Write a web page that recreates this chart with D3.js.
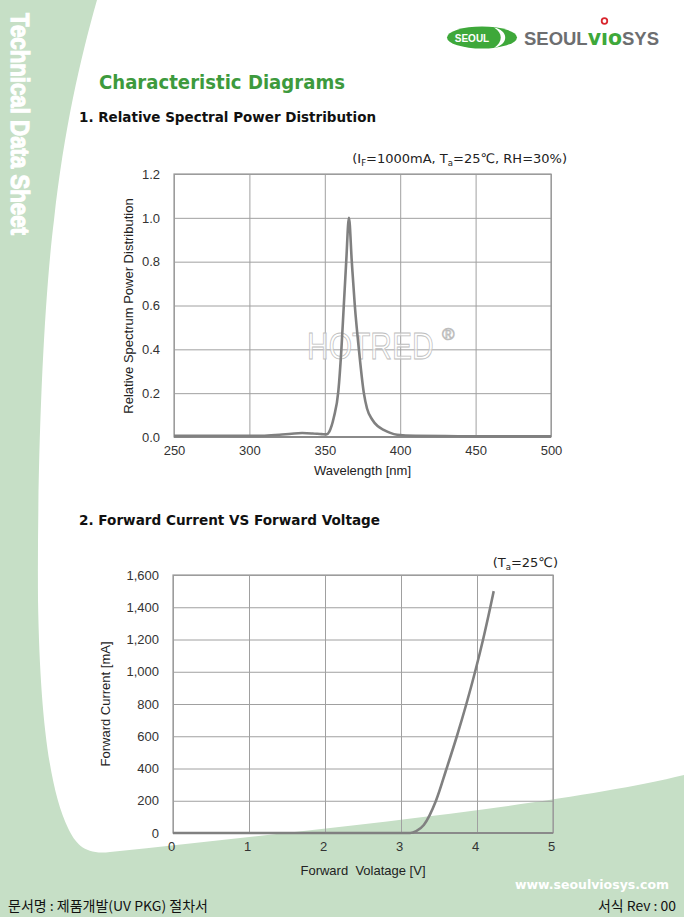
<!DOCTYPE html>
<html>
<head>
<meta charset="utf-8">
<script src="https://cdn.jsdelivr.net/npm/d3@7"></script>
<style>
  html, body { margin: 0; padding: 0; background: #fff; }
  svg { display: block; }
  .tick text { font-family: "Liberation Sans", Arial, sans-serif; font-size: 13px; fill: #333; }
  .grid line { stroke: #a0a0a0; stroke-width: 1; }
</style>
</head>
<body>
<svg id="page" width="684" height="917"></svg>
<script>
//============================================================
// Data
//------------------------------------------------------------

var spectrumWavelength = [250, 260, 270, 280, 290, 300, 310, 320, 328, 335, 342, 348, 351, 353, 356, 359, 361, 362.6, 364.2, 366,
                          367.9, 369.9, 372.6, 375.9, 378, 381.4, 385, 389, 393, 398, 410, 430, 450, 475, 500];
var spectrumValue      = [0.005, 0.005, 0.006, 0.006, 0.005, 0.005, 0.006, 0.010, 0.015, 0.018, 0.016, 0.013, 0.012, 0.025, 0.09, 0.21, 0.40, 0.60, 0.80, 1.0,
                          0.80, 0.60, 0.40, 0.20, 0.13, 0.08, 0.05, 0.033, 0.02, 0.01, 0.005, 0.004, 0.003, 0.003, 0.003];
var wavelengthTicks = [250, 300, 350, 400, 450, 500];
var spectrumTicks   = [0, 0.2, 0.4, 0.6, 0.8, 1.0, 1.2];

var forwardVoltage = [0, 1, 2, 3.0, 3.12, 3.2, 3.3, 3.46, 3.6, 3.735, 3.86, 3.975, 4.08, 4.175, 4.22];
var forwardCurrent = [0, 0, 0, 0, 0, 12, 50, 200, 400, 600, 800, 1000, 1200, 1400, 1500];
var voltageTicks = [0, 1, 2, 3, 4, 5];
var currentTicks = [0, 200, 400, 600, 800, 1000, 1200, 1400, 1600];

//============================================================
// Page background
//------------------------------------------------------------

var svg = d3.select('#page');
var green = '#c6dfc6';

svg.append('rect').attr('width', 684).attr('height', 917).attr('fill', green);
svg.append('path')
    .attr('fill', '#fff')
    .attr('d', 'M97,0 L684,0 L684,775 C560,805 330,828 110,852 C86,855 76,845 68,828 ' +
               'C50,790 40,720 38,600 C37,450 44,300 54,220 C64,130 80,60 97,0 Z');

svg.append('text')
    .attr('transform', 'translate(11,13) rotate(90)')
    .attr('textLength', 222)
    .attr('lengthAdjust', 'spacingAndGlyphs')
    .style('font-family', '"Liberation Sans", Arial, sans-serif')
    .style('font-weight', 'bold')
    .style('font-size', '26px')
    .attr('fill', '#fff')
    .attr('stroke', '#fff').attr('stroke-width', 1.2)
    .text('Technical Data Sheet');

//------------------------------------------------------------
// Logo
var logo = svg.append('g');
logo.append('ellipse').attr('cx', 482).attr('cy', 37.5).attr('rx', 35).attr('ry', 11).attr('fill', '#3ea83a');
logo.append('path')
    .attr('fill', '#fff')
    .attr('d', 'M494,27.5 C508,30 510,44 494,48 C503,42 503,33 494,27.5 Z');
logo.append('text')
    .attr('x', 472).attr('y', 41.5).attr('text-anchor', 'middle')
    .style('font-family', '"Liberation Sans", Arial, sans-serif').style('font-size', '10px').style('font-weight', 'bold')
    .attr('fill', '#fff').text('SEOUL');
var logoText = logo.append('text')
    .attr('x', 524).attr('y', 45)
    .attr('textLength', 135).attr('lengthAdjust', 'spacingAndGlyphs')
    .style('font-family', '"Liberation Sans", Arial, sans-serif').style('font-size', '19px').style('font-weight', 'bold');
logoText.append('tspan').attr('fill', '#6d6e70').text('SEOUL');
logoText.append('tspan').attr('fill', '#3ea83a').style('font-family', '"DejaVu Sans", sans-serif').style('font-size', '21px').text('v\u0131o');
logoText.append('tspan').attr('fill', '#6d6e70').text('SYS');

// red ring sits over the dotless i (character index 6)
var iBox = logoText.node().getExtentOfChar(6);
logo.append('circle')
    .attr('cx', iBox.x + iBox.width / 2).attr('cy', 21)
    .attr('r', 2.8).attr('fill', '#fff').attr('stroke', '#d9262e').attr('stroke-width', 1.8);

//------------------------------------------------------------
// Titles
svg.append('text')
    .attr('x', 99).attr('y', 89)
    .attr('textLength', 246).attr('lengthAdjust', 'spacingAndGlyphs')
    .style('font-family', '"DejaVu Sans", Verdana, sans-serif').style('font-size', '20px').style('font-weight', 'bold')
    .attr('fill', '#3d9a3d')
    .text('Characteristic Diagrams');

function heading(y, label, len) {
  svg.append('text')
      .attr('x', 79).attr('y', y)
      .attr('textLength', len).attr('lengthAdjust', 'spacingAndGlyphs')
      .style('font-family', '"DejaVu Sans", Verdana, sans-serif').style('font-size', '14.5px').style('font-weight', 'bold')
      .attr('fill', '#111')
      .text(label);
}
heading(122, '1. Relative Spectral Power Distribution', 297);
heading(525, '2. Forward Current VS Forward Voltage', 301);

//============================================================
// Chart builder
//------------------------------------------------------------

function lineChart(opt) {
  var x = d3.scaleLinear().domain(opt.xDomain).range([opt.left, opt.right]);
  var y = d3.scaleLinear().domain(opt.yDomain).range([opt.bottom, opt.top]);
  var g = svg.append('g');

  var xAxis = g.append('g')
      .attr('class', 'grid')
      .attr('transform', 'translate(0,' + opt.bottom + ')')
      .call(d3.axisBottom(x).tickValues(opt.xTicks).tickSize(-(opt.bottom - opt.top)).tickSizeOuter(0).tickPadding(9).tickFormat(opt.xFormat));
  var yAxis = g.append('g')
      .attr('class', 'grid')
      .attr('transform', 'translate(' + opt.left + ',0)')
      .call(d3.axisLeft(y).tickValues(opt.yTicks).tickSize(-(opt.right - opt.left)).tickSizeOuter(0).tickPadding(14).tickFormat(opt.yFormat));
  xAxis.select('.domain').remove();
  yAxis.select('.domain').remove();
  xAxis.selectAll('.tick text').attr('dx', opt.xDx || 0);

  g.append('rect')
      .attr('x', opt.left).attr('y', opt.top)
      .attr('width', opt.right - opt.left).attr('height', opt.bottom - opt.top)
      .attr('fill', 'none').attr('stroke', '#999').attr('stroke-width', 1.2);
  g.append('line')
      .attr('x1', opt.left).attr('x2', opt.right).attr('y1', opt.bottom).attr('y2', opt.bottom)
      .attr('stroke', '#8a8a8a').attr('stroke-width', 2);

  if (opt.watermark) opt.watermark(g, x, y);

  var line = d3.line()
      .x(function (d) { return x(d[0]); })
      .y(function (d) { return y(d[1]); })
      .curve(d3.curveMonotoneX);
  g.append('path')
      .datum(d3.zip(opt.xs, opt.ys))
      .attr('fill', 'none')
      .attr('stroke', '#808080')
      .attr('stroke-width', 2.6)
      .attr('stroke-linejoin', 'round')
      .attr('d', line);

  g.append('text')
      .attr('x', (opt.left + opt.right) / 2).attr('y', opt.xLabelY)
      .attr('text-anchor', 'middle')
      .style('font-family', '"Liberation Sans", Arial, sans-serif').style('font-size', '13px').attr('fill', '#222')
      .style('white-space', 'pre').attr('xml:space', 'preserve')
      .text(opt.xLabel);
  g.append('text')
      .attr('transform', 'translate(' + opt.yLabelX + ',' + opt.yLabelY + ') rotate(-90)')
      .attr('text-anchor', 'middle')
      .style('font-family', '"Liberation Sans", Arial, sans-serif').style('font-size', '13px').attr('fill', '#222')
      .text(opt.yLabel);

  var note = g.append('text')
      .attr('x', opt.noteX).attr('y', opt.noteY).attr('text-anchor', 'end')
      .style('font-family', '"DejaVu Sans", Verdana, sans-serif').style('font-size', '13px').attr('fill', '#222');
  opt.note.forEach(function (p) {
    var t = note.append('tspan').text(p[0]);
    if (p[1]) t.attr('baseline-shift', '-3').style('font-size', '8.5px');
  });
  return g;
}

//------------------------------------------------------------
// 1. Spectrum

lineChart({
  left: 174, right: 551, top: 174, bottom: 437,
  xDomain: [250, 500], yDomain: [0, 1.2],
  xTicks: wavelengthTicks, yTicks: spectrumTicks,
  xFormat: d3.format('d'), yFormat: d3.format('.1f'),
  xs: spectrumWavelength, ys: spectrumValue,
  xLabel: 'Wavelength [nm]', xLabelY: 475,
  yLabel: 'Relative Spectrum Power Distribution', yLabelX: 133, yLabelY: 306,
  noteX: 567, noteY: 163,
  note: [['(I'], ['F', true], ['=1000mA, T'], ['a', true], ['=25\u2103, RH=30%)']],
  watermark: function (g, x, y) {
    g.append('text')
        .attr('transform', 'translate(307,359) scale(1,1.22)')
        .style('font-family', '"Liberation Sans", Arial, sans-serif').style('font-size', '30px')
        .attr('fill', '#fff').attr('fill-opacity', 0.6).attr('stroke', '#bdbdbd').attr('stroke-width', 0.7)
        .text('HOTRED');
    g.append('text')
        .attr('x', 442).attr('y', 340)
        .style('font-family', '"Liberation Sans", Arial, sans-serif').style('font-size', '17px')
        .attr('fill', 'none').attr('stroke', '#bdbdbd').attr('stroke-width', 0.8)
        .text('\u00AE');
  }
});

//------------------------------------------------------------
// 2. Forward current vs voltage

lineChart({
  left: 173, right: 553, top: 575, bottom: 833,
  xDomain: [0, 5], yDomain: [0, 1600],
  xTicks: voltageTicks, yTicks: currentTicks,
  xFormat: d3.format('d'), yFormat: d3.format(','),
  xDx: -2,
  xs: forwardVoltage, ys: forwardCurrent,
  xLabel: 'Forward  Volatage [V]', xLabelY: 875,
  yLabel: 'Forward Current [mA]', yLabelX: 110, yLabelY: 704,
  noteX: 558, noteY: 567,
  note: [['(T'], ['a', true], ['=25\u2103)']]
});

//============================================================
// Footer
//------------------------------------------------------------

svg.append('text')
    .attr('x', 669).attr('y', 889).attr('text-anchor', 'end')
    .style('font-family', '"DejaVu Sans", Verdana, sans-serif').style('font-size', '12.5px').style('font-weight', 'bold')
    .attr('fill', '#fff')
    .text('www.seoulviosys.com');
svg.append('text')
    .attr('x', 8).attr('y', 911)
    .attr('textLength', 200).attr('lengthAdjust', 'spacingAndGlyphs')
    .style('font-family', '"Noto Sans CJK KR", sans-serif').style('font-size', '13.5px')
    .attr('fill', '#111')
    .text('문서명 : 제품개발(UV PKG) 절차서');
svg.append('text')
    .attr('x', 676).attr('y', 911).attr('text-anchor', 'end')
    .attr('textLength', 78).attr('lengthAdjust', 'spacingAndGlyphs')
    .style('font-family', '"Noto Sans CJK KR", sans-serif').style('font-size', '13.5px')
    .attr('fill', '#111')
    .text('서식 Rev : 00');
</script>
</body>
</html>
